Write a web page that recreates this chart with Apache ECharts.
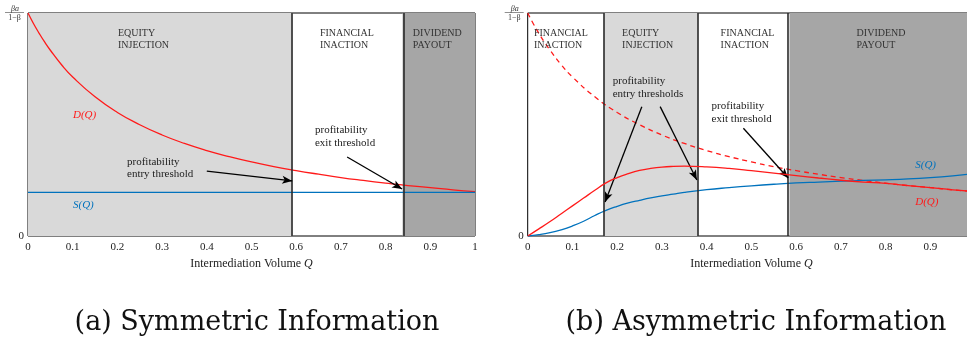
<!DOCTYPE html>
<html><head><meta charset="utf-8">
<script src="https://cdn.jsdelivr.net/npm/echarts@6/dist/echarts.min.js"></script>
<style>html,body{margin:0;padding:0;background:#fff}#c{width:967px;height:341px}</style>
</head><body><div id="c"></div>
<script>
// ---------- data ----------
const qD = [0,0.0125,0.025,0.0375,0.05,0.075,0.1,0.15,0.2,0.25,0.3,0.35,0.4,0.45,0.5,0.55,0.6,0.65,0.7,0.75,0.8,0.85,0.9,0.95,1.0];
const demandFull = [1.000,0.952,0.909,0.869,0.833,0.768,0.713,0.624,0.554,0.499,0.453,0.415,0.383,0.356,0.332,0.311,0.293,0.277,0.262,0.249,0.237,0.226,0.217,0.207,0.199];
const qS = [0,1];
const supplySym = [0.196,0.196];
const boundsSym = [0.592,0.838];

const qA = [0,0.025,0.05,0.075,0.1,0.125,0.15,0.175,0.2,0.225,0.25,0.275,0.3,0.325,0.35,0.4,0.45,0.5,0.55,0.6,0.65,0.7,0.75,0.8,0.85,0.9,0.95,1.0];
const demandAsym = [0,0.032,0.065,0.100,0.135,0.170,0.205,0.238,0.262,0.280,0.294,0.303,0.309,0.312,0.313,0.310,0.303,0.293,0.282,0.271,0.260,0.250,0.242,0.236,0.226,0.217,0.207,0.199];
const supplyAsym = [0,0.006,0.015,0.028,0.045,0.066,0.092,0.115,0.133,0.148,0.160,0.171,0.180,0.188,0.196,0.208,0.217,0.225,0.232,0.238,0.242,0.246,0.249,0.252,0.256,0.262,0.270,0.280];
const boundsAsym = [0.170,0.381,0.585];

const regionsSym = [
  {from:0, to:0.592, shade:'light', label:['EQUITY','INJECTION']},
  {from:0.592, to:0.838, shade:'none', label:['FINANCIAL','INACTION']},
  {from:0.838, to:1, shade:'dark', label:['DIVIDEND','PAYOUT']}
];
const regionsAsym = [
  {from:0, to:0.170, shade:'none', label:['FINANCIAL','INACTION']},
  {from:0.170, to:0.381, shade:'light', label:['EQUITY','INJECTION']},
  {from:0.381, to:0.585, shade:'none', label:['FINANCIAL','INACTION']},
  {from:0.585, to:1, shade:'dark', label:['DIVIDEND','PAYOUT']}
];
const captions = ['(a) Symmetric Information','(b) Asymmetric Information'];

// ---------- style ----------
const SERIF = '"Liberation Serif", "Times New Roman", serif';
const CAPF = '"DejaVu Serif", serif';
const RED = '#ff1a1a', BLUE = '#0072bd';
const SHADE = {light:'#d9d9d9', dark:'#a6a6a6', none:'rgba(0,0,0,0)'};
const zip = (xs, ys) => xs.map((x,i)=>[x, ys[i]]);

const chart = echarts.init(document.getElementById('c'), null, {renderer:'canvas'});

function xAxis(gi){
  return {type:'value', gridIndex:gi, min:0, max:1, interval:0.1,
    axisLine:{show:false}, axisTick:{show:false}, splitLine:{show:false},
    axisLabel:{color:'#222', fontFamily:SERIF, fontSize:11, margin:6,
      formatter:v=> (gi===1 && v>0.95) ? '' : String(Math.round(v*10)/10)},
    name:'Intermediation Volume {i|Q}', nameLocation:'middle', nameGap:19,
    nameTextStyle:{color:'#222', fontFamily:SERIF, fontSize:12,
      rich:{i:{fontStyle:'italic', fontFamily:SERIF, fontSize:12, color:'#222'}}}
  };
}
function yAxis(gi){
  return {type:'value', gridIndex:gi, min:0, max:1, interval:1,
    axisLine:{show:false}, axisTick:{show:false}, splitLine:{show:false},
    axisLabel:{color:'#222', fontFamily:SERIF, fontSize:11, margin:4,
      formatter:v=> v===0 ? '0' : ''}
  };
}
function areaSeries(gi, regions, bounds){
  return {type:'line', xAxisIndex:gi, yAxisIndex:gi, data:[], z:1, silent:true,
    markArea:{silent:true, data: regions.map(r=>[{xAxis:r.from, itemStyle:{color:SHADE[r.shade]}},{xAxis:r.to}])},
    markLine:{silent:true, symbol:['none','none'], label:{show:false},
      lineStyle:{color:'#2a2a2a', width:1.6, type:'solid'},
      data: bounds.map(b=>({xAxis:b}))}
  };
}
function arrows(gi, list){
  return {type:'line', xAxisIndex:gi, yAxisIndex:gi, data:[], z:6, silent:true,
    markLine:{silent:true, symbol:['none','arrow'], symbolSize:[6,10], label:{show:false},
      lineStyle:{color:'#000', width:1.3, type:'solid'},
      data: list.map(a=>[{coord:a[0]},{coord:a[1]}])}
  };
}
function lineSeries(gi, data, color, dashed, z){
  return {type:'line', xAxisIndex:gi, yAxisIndex:gi, data, smooth:true,
    showSymbol:false, symbol:'none', z: z||4, silent:true,
    lineStyle:{color, width:1.3, type: dashed ? [5,4] : 'solid'}};
}

chart.setOption({
  animation:false,
  backgroundColor:'#fff',
  grid:[
    {left:28, top:13, width:447, height:223, outerBoundsMode:'none', containLabel:false, show:true, borderColor:'#000', borderWidth:1, backgroundColor:'#fff'},
    {left:527.7, top:13, width:447.5, height:223, outerBoundsMode:'none', containLabel:false, show:true, borderColor:'#000', borderWidth:1, backgroundColor:'#fff'}
  ],
  xAxis:[xAxis(0), xAxis(1)],
  yAxis:[yAxis(0), yAxis(1)],
  series:[
    areaSeries(0, regionsSym, boundsSym),
    lineSeries(0, zip(qD, demandFull), RED, false, 4),
    lineSeries(0, zip(qS, supplySym), BLUE, false, 4),
    arrows(0, [[[0.400,0.291],[0.591,0.247]], [[0.714,0.354],[0.837,0.211]]]),

    areaSeries(1, regionsAsym, boundsAsym),
    lineSeries(1, zip(qD, demandFull), RED, true, 3),
    lineSeries(1, zip(qA, supplyAsym), BLUE, false, 4),
    lineSeries(1, zip(qA, demandAsym), RED, false, 5),
    arrows(1, [[[0.255,0.580],[0.173,0.152]], [[0.296,0.580],[0.378,0.251]], [[0.482,0.483],[0.582,0.260]]])
  ]
});

// ---------- annotations placed through the axes ----------
const P = (gi, q, v) => chart.convertToPixel({gridIndex:gi}, [q, v]);
const g = [];
function txt(gi, q, v, text, opt){
  const p = P(gi, q, v);
  g.push({type:'text', x:p[0], y:p[1], z:20, silent:true,
    style:Object.assign({text, fill:'#333', fontFamily:SERIF, fontSize:10, align:'left', verticalAlign:'top', lineHeight:12}, opt||{})});
}
const headPos = [[0.2013,0.937],[0.653,0.937],[0.861,0.937]];
regionsSym.forEach((r,i)=>txt(0, headPos[i][0], headPos[i][1], r.label.join('\n')));
const headPosA = [[0.014,0.937],[0.211,0.937],[0.431,0.937],[0.735,0.937]];
regionsAsym.forEach((r,i)=>txt(1, headPosA[i][0], headPosA[i][1], r.label.join('\n')));
txt(0, 0.2215, 0.360, 'profitability\nentry threshold', {fontSize:11, lineHeight:12, fill:'#222'});
txt(0, 0.642, 0.502, 'profitability\nexit threshold', {fontSize:11, lineHeight:13, fill:'#222'});
txt(1, 0.190, 0.722, 'profitability\nentry thresholds', {fontSize:11, lineHeight:13, fill:'#222'});
txt(1, 0.411, 0.612, 'profitability\nexit threshold', {fontSize:11, lineHeight:13, fill:'#222'});
txt(0, 0.1007, 0.543, 'D(Q)', {fontSize:11, fontStyle:'italic', fill:RED, verticalAlign:'middle'});
txt(0, 0.1007, 0.139, 'S(Q)', {fontSize:11, fontStyle:'italic', fill:BLUE, verticalAlign:'middle'});
txt(1, 0.866, 0.318, 'S(Q)', {fontSize:11, fontStyle:'italic', fill:BLUE, verticalAlign:'middle'});
txt(1, 0.866, 0.154, 'D(Q)', {fontSize:11, fontStyle:'italic', fill:RED, verticalAlign:'middle'});
[0,1].forEach(gi=>{
  const p = P(gi, 0, 1);
  g.push({type:'text', x:p[0]-13, y:p[1]-4.5, silent:true,
    style:{text:'βa', fill:'#333', fontFamily:SERIF, fontStyle:'italic', fontSize:8, align:'center', verticalAlign:'middle'}});
  g.push({type:'line', silent:true, shape:{x1:p[0]-23, y1:p[1]-0.5, x2:p[0]-4, y2:p[1]-0.5},
    style:{stroke:'#444', lineWidth:0.6}});
  g.push({type:'text', x:p[0]-13.5, y:p[1]+4.5, silent:true,
    style:{text:'1−β', fill:'#333', fontFamily:SERIF, fontSize:8, align:'center', verticalAlign:'middle'}});
});
g.push({type:'text', x:257, y:323, silent:true, style:{text:captions[0], fill:'#111', fontFamily:CAPF, fontSize:27, align:'center', verticalAlign:'middle'}});
g.push({type:'text', x:756, y:323, silent:true, style:{text:captions[1], fill:'#111', fontFamily:CAPF, fontSize:27, align:'center', verticalAlign:'middle'}});
chart.setOption({graphic:g});
</script></body></html>
